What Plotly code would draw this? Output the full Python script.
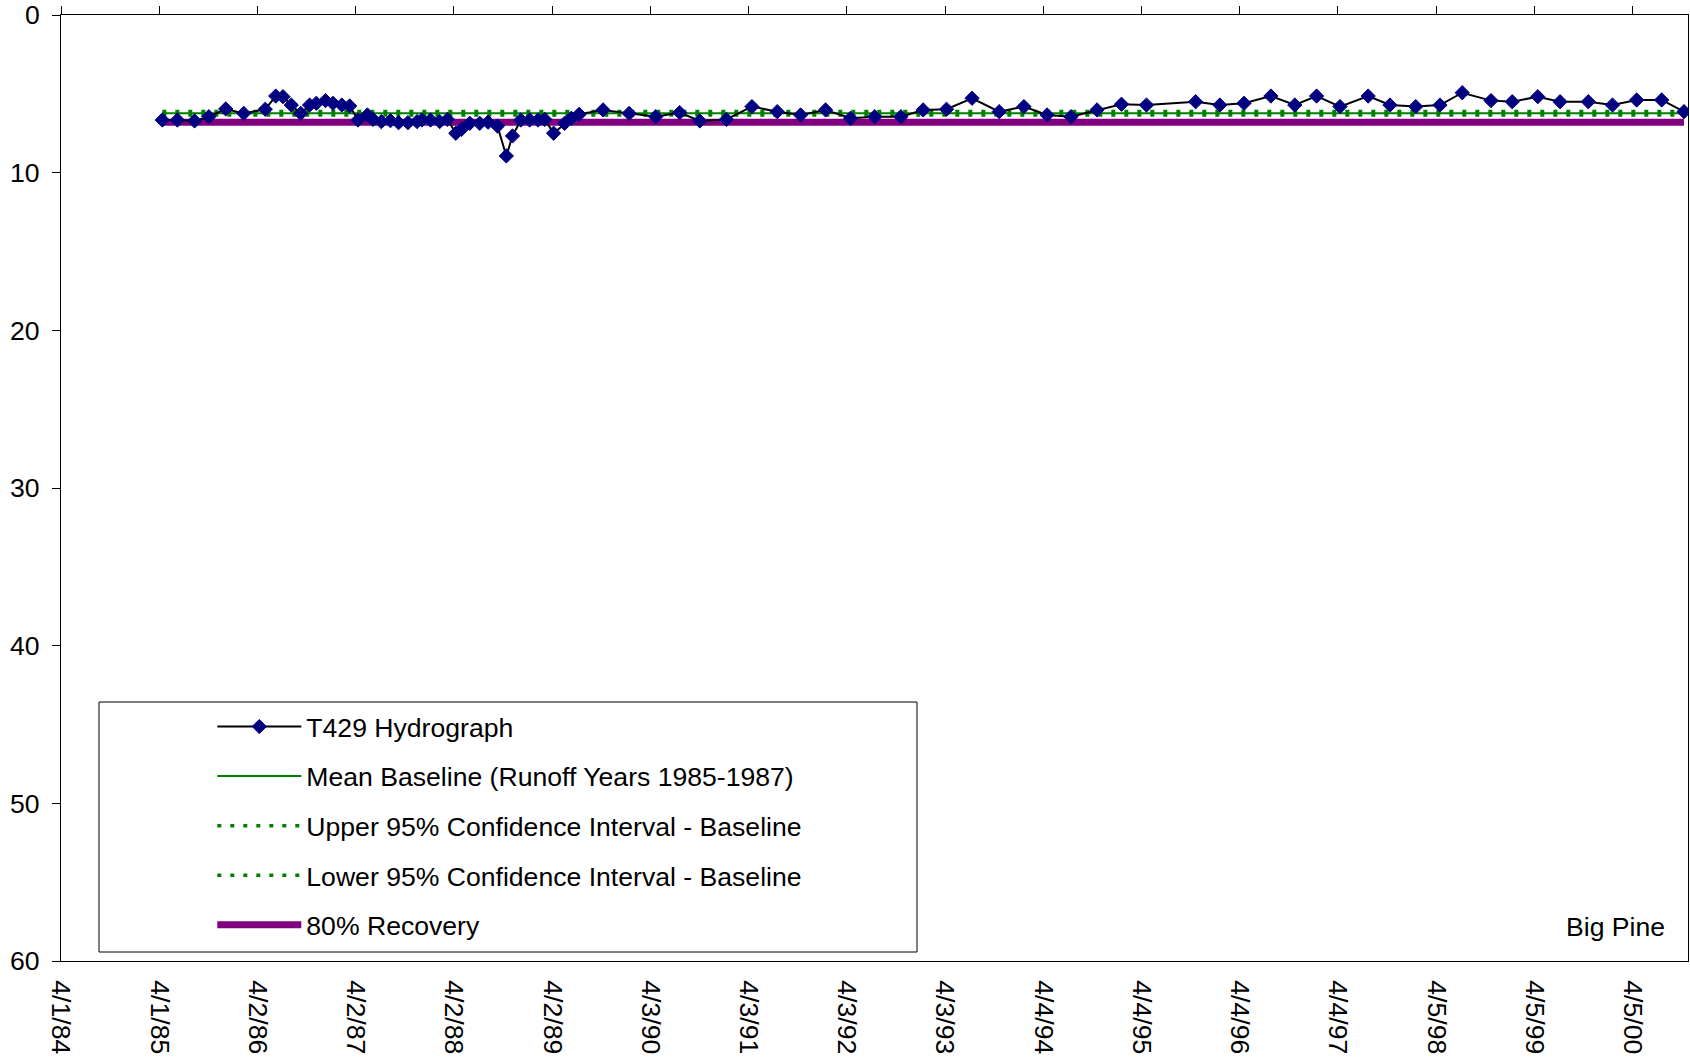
import plotly.graph_objects as go

# ---------------- data ----------------
dates = [
    "1985-04-13", "1985-06-08", "1985-08-11", "1985-10-03", "1985-12-05", "1986-02-10",
    "1986-05-01", "1986-06-09", "1986-07-06", "1986-08-06", "1986-09-10", "1986-10-13",
    "1986-11-07", "1986-12-11", "1987-01-08", "1987-02-10", "1987-03-11",
    "1987-04-11", "1987-05-16", "1987-06-06", "1987-07-07", "1987-08-10", "1987-09-09",
    "1987-10-14", "1987-11-17", "1987-12-05", "1988-01-06", "1988-02-09", "1988-03-09",
    "1988-04-09", "1988-04-30", "1988-05-31", "1988-07-07", "1988-08-07", "1988-09-11",
    "1988-10-14", "1988-11-06", "1988-12-07", "1989-01-09", "1989-02-09", "1989-03-06",
    "1989-04-08", "1989-05-19", "1989-06-13", "1989-07-12", "1989-10-09", "1990-01-14",
    "1990-04-23", "1990-07-21", "1990-10-04", "1991-01-11",
    "1991-04-16", "1991-07-19", "1991-10-14", "1992-01-15",
    "1992-04-17", "1992-07-16", "1992-10-21", "1993-01-12",
    "1993-04-09", "1993-07-13", "1993-10-22", "1994-01-22",
    "1994-04-18", "1994-07-16", "1994-10-21", "1995-01-20",
    "1995-04-23", "1995-10-23", "1996-01-21",
    "1996-04-20", "1996-07-29", "1996-10-26", "1997-01-15",
    "1997-04-12", "1997-07-26", "1997-10-15", "1998-01-19",
    "1998-04-19", "1998-07-11", "1998-10-26", "1999-01-13",
    "1999-04-18", "1999-07-10", "1999-10-23", "2000-01-21",
    "2000-04-20", "2000-07-22", "2000-10-13",
]
depth_to_water = [
    6.66, 6.66, 6.72, 6.45, 5.96, 6.24,
    5.98, 5.14, 5.18, 5.71, 6.24, 5.71, 5.60, 5.43, 5.60, 5.71, 5.77,
    6.66, 6.34, 6.62, 6.76, 6.70, 6.83, 6.83, 6.76, 6.66, 6.66, 6.76, 6.62,
    7.50, 7.25, 6.87, 6.87, 6.80, 7.04, 8.94, 7.67, 6.66, 6.66, 6.66, 6.62,
    7.50, 6.87, 6.55, 6.30, 6.02, 6.24,
    6.45, 6.19, 6.72, 6.62,
    5.81, 6.13, 6.34, 6.02,
    6.55, 6.45, 6.45, 6.02,
    5.98, 5.28, 6.13, 5.81,
    6.34, 6.45, 6.02, 5.66,
    5.71, 5.50, 5.71,
    5.60, 5.14, 5.71, 5.14,
    5.81, 5.14, 5.71, 5.81,
    5.71, 4.93, 5.43, 5.50,
    5.18, 5.50, 5.50, 5.71,
    5.39, 5.39, 6.13,
]

baseline_span = ["1985-04-13", "2000-10-13"]
mean_baseline = 6.23
upper_ci = 6.12
lower_ci = 6.34
recovery_80 = 6.80

tick_vals = [
    "1984-04-01", "1985-04-01 12:00", "1986-04-02", "1987-04-02 12:00",
    "1988-04-02", "1989-04-02 12:00", "1990-04-03", "1991-04-03 12:00",
    "1992-04-03", "1993-04-03 12:00", "1994-04-04", "1995-04-04 12:00",
    "1996-04-04", "1997-04-04 12:00", "1998-04-05", "1999-04-05 12:00",
    "2000-04-05",
]
tick_text = [
    "4/1/84", "4/1/85", "4/2/86", "4/2/87", "4/2/88", "4/2/89", "4/3/90",
    "4/3/91", "4/3/92", "4/3/93", "4/4/94", "4/4/95", "4/4/96", "4/4/97",
    "4/5/98", "4/5/99", "4/5/00",
]
x_range = ["1984-04-01", "2000-10-28"]
y_ticks = [0, 10, 20, 30, 40, 50, 60]

FONT = "Liberation Sans, Arial, sans-serif"
FS = 26.6
GREEN = "#008000"
PURPLE = "#800080"
NAVY = "#000080"

fig = go.Figure()

fig.add_trace(go.Scatter(
    x=baseline_span, y=[recovery_80] * 2, mode="lines", name="80% Recovery",
    line=dict(color=PURPLE, width=7), legendgroup="e", legendrank=5,
))
fig.add_trace(go.Scatter(
    x=baseline_span, y=[upper_ci] * 2, mode="lines",
    name="Upper 95% Confidence Interval - Baseline",
    line=dict(color=GREEN, width=3.5, dash="4px,9px"), legendgroup="c", legendrank=3,
))
fig.add_trace(go.Scatter(
    x=baseline_span, y=[lower_ci] * 2, mode="lines",
    name="Lower 95% Confidence Interval - Baseline",
    line=dict(color=GREEN, width=3.5, dash="4px,9px"), legendgroup="d", legendrank=4,
))
fig.add_trace(go.Scatter(
    x=baseline_span, y=[mean_baseline] * 2, mode="lines",
    name="Mean Baseline (Runoff Years 1985-1987)",
    line=dict(color=GREEN, width=2), legendgroup="b", legendrank=2,
))
fig.add_trace(go.Scatter(
    x=dates, y=depth_to_water, mode="lines+markers", name="T429 Hydrograph",
    line=dict(color="black", width=2),
    marker=dict(symbol="diamond", size=11, color=NAVY, line=dict(color=NAVY, width=1)),
    legendgroup="a", legendrank=1,
))
# invisible trace to carry the top axis
fig.add_trace(go.Scatter(x=x_range, y=[None, None], xaxis="x2", showlegend=False,
                         hoverinfo="skip"))

fig.update_layout(
    width=1690, height=1062,
    margin=dict(l=61, r=2, t=15, b=101, autoexpand=False),
    paper_bgcolor="white", plot_bgcolor="white",
    font=dict(family=FONT, size=FS, color="black"),
    showlegend=True,
    legend=dict(
        x=0.093, y=0.273, xanchor="left", yanchor="top",
        bgcolor="rgba(0,0,0,0)", borderwidth=0,
        font=dict(family=FONT, size=FS, color="black"),
        tracegroupgap=12, itemwidth=84, traceorder="grouped",
    ),
    xaxis=dict(
        type="date", range=x_range, tickmode="array", tickvals=tick_vals,
        ticktext=tick_text, tickangle=90, ticks="", showgrid=False,
        showline=True, linecolor="black", linewidth=1, mirror=True,
        tickfont=dict(family=FONT, size=FS), ticklabelstandoff=13, zeroline=False,
        automargin=False,
    ),
    xaxis2=dict(
        type="date", range=x_range, overlaying="x", side="top", tickmode="array",
        tickvals=tick_vals, showticklabels=False, ticks="outside", ticklen=8,
        tickcolor="black", showgrid=False, showline=False, zeroline=False,
        automargin=False,
    ),
    yaxis=dict(
        range=[60, 0], tickmode="array", tickvals=y_ticks, ticks="outside",
        ticklen=8, tickcolor="black", showgrid=False, showline=True,
        linecolor="black", linewidth=1, mirror=True, zeroline=False,
        tickfont=dict(family=FONT, size=FS), ticklabelstandoff=7, automargin=False,
    ),
    shapes=[dict(
        type="rect", xref="paper", yref="paper",
        x0=(99 - 61) / 1627, x1=(917 - 61) / 1627,
        y0=(961 - 952) / 946, y1=(961 - 702) / 946,
        line=dict(color="black", width=1), fillcolor="rgba(0,0,0,0)", layer="above",
    )],
    annotations=[dict(
        text="Big Pine", xref="paper", yref="paper", x=(1667 - 61) / 1627,
        y=(961 - 927) / 946, xanchor="right", yanchor="middle", showarrow=False,
        font=dict(family=FONT, size=FS, color="black"),
    )],
)

fig.write_html(
    "out.html",
    config={"displayModeBar": False},
    post_script="document.body.style.margin='0';document.body.style.overflow='hidden';",
)
